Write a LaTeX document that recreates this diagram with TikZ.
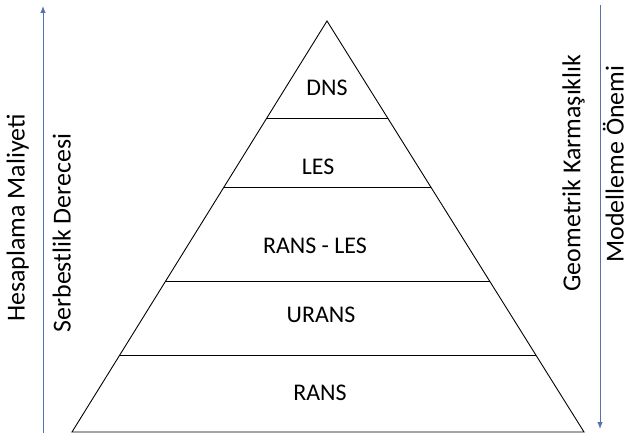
\documentclass[tikz,border=0pt]{standalone}
\usepackage{fontspec}
\setmainfont{Carlito}
\usepackage{tikz}
\usetikzlibrary{calc, arrows.meta}
\definecolor{axisblue}{HTML}{5573AD}

\begin{document}
\begin{tikzpicture}[x=1bp, y=-1bp,
    lbl/.style={inner sep=0pt, font=\fontsize{24}{28}\selectfont},
    sidelbl/.style={inner sep=0pt, rotate=90, font=\fontsize{26}{30}\selectfont},
    axis/.style={axisblue, line width=0.9pt, -{Latex[length=7pt, width=5.5pt]}}]
    \useasboundingbox (0, 0) rectangle (630, 439);
    % pyramid
    \coordinate (apex) at (327, 21);
    \coordinate (bl) at (72, 432);
    \coordinate (br) at (584, 432);
    \draw[line width=0.9pt] (apex) -- (bl) -- (br) -- cycle;
    \draw[line width=0.9pt] ($(apex)!0.236!(bl)$) -- ($(apex)!0.236!(br)$);
    \draw[line width=0.9pt] ($(apex)!0.404!(bl)$) -- ($(apex)!0.404!(br)$);
    \draw[line width=0.9pt] ($(apex)!0.633!(bl)$) -- ($(apex)!0.633!(br)$);
    \draw[line width=0.9pt] ($(apex)!0.813!(bl)$) -- ($(apex)!0.813!(br)$);
    \node[lbl] at (327, 88) (dns) {DNS};
    \node[lbl] at (318, 167) (les) {LES};
    \node[lbl] at (315, 246) (ransles) {RANS - LES};
    \node[lbl] at (321, 315) (urans) {URANS};
    \node[lbl] at (320, 393) (rans) {RANS};
    % side arrows
    \coordinate (lb) at (43, 433);
    \coordinate (lt) at (43, 6);
    \coordinate (rt) at (600, 5);
    \coordinate (rb) at (600, 429);
    \draw[axis] (lb) -- (lt);
    \draw[axis] (rt) -- (rb);
    \node[sidelbl, anchor=south] at (29, 218) (cost) {Hesaplama Maliyeti};
    \node[sidelbl, anchor=south] at (71, 233) (dof) {Serbestlik Derecesi};
    \node[sidelbl, anchor=south] at (585, 173) (geom) {Geometrik Karmaşıklık};
    \node[sidelbl, anchor=south] at (624, 164) (model) {Modelleme Önemi};
\end{tikzpicture}
\end{document}
